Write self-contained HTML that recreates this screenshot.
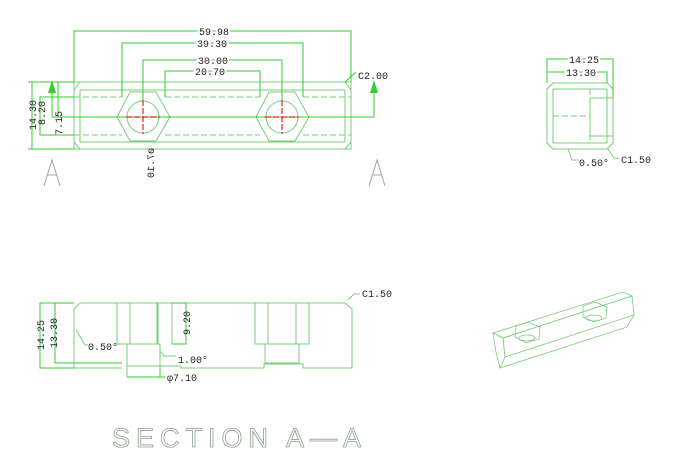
<!DOCTYPE html>
<html><head><meta charset="utf-8"><style>
html,body{margin:0;padding:0;background:#fff;}
svg{display:block;}
text{font-family:"Liberation Mono","DejaVu Sans Mono",monospace;font-size:10px;fill:#222;}
</style></head><body>
<svg width="691" height="471" viewBox="0 0 691 471" xmlns="http://www.w3.org/2000/svg">
<g fill="none" stroke="#7acc7a" stroke-width="1">
<rect x="74" y="82" width="277" height="67"/>
<line x1="80" y1="90" x2="345" y2="90"/>
<line x1="80" y1="142" x2="345" y2="142"/>
<line x1="80" y1="90" x2="80" y2="142"/>
<line x1="345" y1="90" x2="345" y2="142"/>
<polyline points="74,90 80,82"/><polyline points="345,82 351,90"/>
<polyline points="74,142 80,149"/><polyline points="345,149 351,142"/>
<g stroke-dasharray="6,3">
<line x1="74" y1="97" x2="122" y2="97"/><line x1="74" y1="135" x2="122" y2="135"/>
<line x1="165" y1="97" x2="260" y2="97"/><line x1="165" y1="135" x2="260" y2="135"/>
<line x1="303" y1="97" x2="351" y2="97"/><line x1="303" y1="135" x2="351" y2="135"/>
</g>
<line x1="184" y1="117" x2="242" y2="117"/>
<polygon points="117,117 130,92 156,92 170,117 156,141 130,141"/>
<circle cx="143" cy="117" r="16"/>
<polygon points="256,117 269,92 295,92 309,117 295,141 269,141"/>
<circle cx="282" cy="117" r="16"/>
</g>
<g fill="none" stroke="#33cc33" stroke-width="1">
<polyline points="74,82 74,31 351,31 351,82"/>
<polyline points="122,97 122,43 303,43 303,97"/>
<polyline points="143,100 143,60 282,60 282,100"/>
<polyline points="165,97 165,71 260,71 260,97"/>
<polyline points="74,82 28,82"/><line x1="32" y1="82" x2="32" y2="149"/><line x1="28" y1="149" x2="74" y2="149"/>
<polyline points="74,97 40,97 40,135 74,135"/>
<line x1="58" y1="82" x2="58" y2="117"/>
<polyline points="52,85 52,117 374,117 374,85"/>
<line x1="345" y1="82" x2="356" y2="72"/>
</g>
<g stroke="#d22" stroke-width="1.2" stroke-dasharray="6,2">
<line x1="126" y1="117" x2="160" y2="117"/><line x1="143" y1="100" x2="143" y2="134"/>
<line x1="265" y1="117" x2="299" y2="117"/><line x1="282" y1="100" x2="282" y2="134"/>
</g>
<g fill="#33cc33"><polygon points="52,80 48,93 56,93"/><polygon points="374,80 370,93 378,93"/></g>
<g font-size="10">
<text x="199" y="35" stroke="#fff" stroke-width="4" paint-order="stroke">59.98</text>
<text x="197" y="47" stroke="#fff" stroke-width="4" paint-order="stroke">39.30</text>
<text x="198" y="64" stroke="#fff" stroke-width="4" paint-order="stroke">30.00</text>
<text x="195" y="75" stroke="#fff" stroke-width="4" paint-order="stroke">20.70</text>
<text x="358" y="79">C2.00</text>
<text transform="translate(36,130) rotate(-90)">14.30</text>
<text transform="translate(45,125) rotate(-90)">8.20</text>
<text transform="translate(62,135) rotate(-90)">7.15</text>
<text transform="translate(154,148) rotate(90) scale(1,-1)">ø7.10</text>
</g>
<g stroke="#9aaa9a" fill="none" stroke-width="1">
<polyline points="44,186 52,160 60,186"/><line x1="48" y1="175" x2="56" y2="175"/>
<polyline points="369,186 377,160 385,186"/><line x1="373" y1="175" x2="381" y2="175"/>
</g>
<g fill="none" stroke="#7acc7a">
<polygon points="547,89 553,83 607,83 613,89 613,143 607,149 553,149 547,143"/>
<line x1="553" y1="89" x2="553" y2="143"/><line x1="553" y1="89" x2="607" y2="89"/><line x1="553" y1="143" x2="607" y2="143"/>
<line x1="607" y1="89" x2="607" y2="143"/>
<rect x="590" y="98" width="23" height="38"/>
<line x1="590" y1="89" x2="590" y2="143" stroke-dasharray="6,3"/>
<line x1="553" y1="116" x2="590" y2="116" stroke-dasharray="6,3"/>
<polyline points="568,149 572,160 578,160"/><polyline points="608,149 614,158 619,158"/>
</g>
<g fill="none" stroke="#33cc33"><polyline points="547,83 547,59 613,59 613,98"/><polyline points="547,83 547,72 607,72 607,83"/></g>
<text x="569" y="63" stroke="#fff" stroke-width="4" paint-order="stroke">14.25</text>
<text x="566" y="76" stroke="#fff" stroke-width="4" paint-order="stroke">13.30</text>
<text x="579" y="166">0.50°</text>
<text x="621" y="163">C1.50</text>
<g fill="none" stroke="#7acc7a">
<polyline points="74,368 74,309 80,303 345,303 352,309 352,368 303,368 303,364 264,364 264,368 181,368 181,366 127,366"/>
<line x1="74" y1="368" x2="122" y2="368"/>
<rect x="117" y="303" width="41" height="41"/><line x1="130" y1="303" x2="130" y2="344"/><line x1="157" y1="303" x2="157" y2="344"/>
<rect x="127" y="344" width="33" height="33"/>
<rect x="172" y="303" width="14" height="41"/>
<rect x="255" y="303" width="54" height="41"/><line x1="268" y1="303" x2="268" y2="344"/><line x1="296" y1="303" x2="296" y2="344"/>
<rect x="265" y="344" width="34" height="19"/>
<polyline points="76,330 85,345 88,345"/><polyline points="160,351 164,356 176,356"/><polyline points="348,300 354,294 360,294"/>
</g>
<g fill="none" stroke="#33cc33">
<polyline points="74,303 40,303 40,368 74,368"/>
<polyline points="74,303 55,303 55,363 122,363"/>
<polyline points="172,303 186,303 186,344 172,344"/>
<polyline points="127,377 165,377"/><line x1="160" y1="377" x2="160" y2="368"/>
</g>
<text x="88" y="350">0.50°</text>
<text x="178" y="363">1.00°</text>
<text x="167" y="381">φ7.10</text>
<text x="362" y="297">C1.50</text>
<text transform="translate(44,350) rotate(-90)">14.25</text>
<text transform="translate(57,348) rotate(-90)">13.30</text>
<text transform="translate(190,335) rotate(-90)">9.20</text>
<g fill="none" stroke="#7acc7a" stroke-width="0.8">
<polygon points="493,333 623,292 632,296 503,338"/>
<polygon points="503,338 632,296 634,315 505,357"/>
<polygon points="493,333 503,338 505,357 500,368 496,352"/>
<line x1="500" y1="368" x2="627" y2="327"/><line x1="627" y1="327" x2="634" y2="315"/>
<polygon points="516,326 528,322 540,327 539,339 526,343 515,337"/>
<ellipse cx="527" cy="338" rx="8" ry="3"/>
<polygon points="583,306 595,302 607,307 606,318 594,322 583,317"/>
<ellipse cx="594" cy="318" rx="8" ry="3"/>
</g>
<text x="112" y="447" style="font-family:'Liberation Sans',sans-serif;font-size:27px;fill:#fff;stroke:#8fa08f;stroke-width:0.8;letter-spacing:6px">SECTION A—A</text>
</svg>
</body></html>
